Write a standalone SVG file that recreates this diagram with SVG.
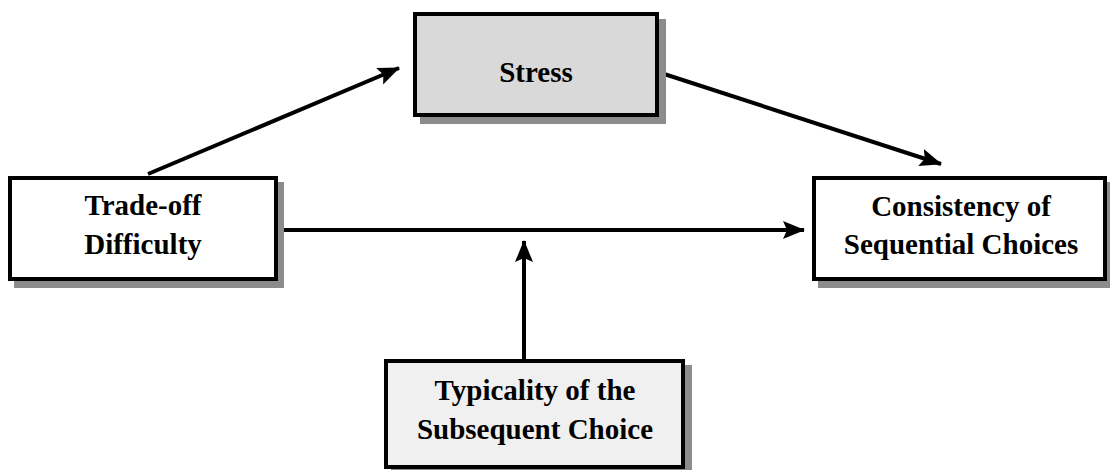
<svg xmlns="http://www.w3.org/2000/svg" width="1110" height="470" viewBox="0 0 1110 470">
<defs>
<marker id="ah" markerUnits="userSpaceOnUse" markerWidth="22" markerHeight="20" viewBox="0 0 22 20" refX="21" refY="10" orient="auto">
<path d="M0,1 L22,10 L0,19 L4,10 Z" fill="#000"/>
</marker>
<style>
.box{stroke:#000;stroke-width:4}
.shadow{fill:#8c8c8c}
.lbl{font-family:"Liberation Serif","Times New Roman",serif;font-weight:bold;font-size:29px;fill:#000;text-anchor:middle}
.conn{stroke:#000;stroke-width:4;fill:none;marker-end:url(#ah)}
</style>
</defs>
<rect width="1110" height="470" fill="#fff"/>
<g id="connectors">
<line class="conn" x1="148" y1="174" x2="399" y2="68"/>
<line class="conn" x1="658" y1="72" x2="941" y2="164"/>
<line class="conn" x1="278" y1="230" x2="804" y2="230"/>
<line class="conn" x1="524" y1="359" x2="524" y2="241"/>
</g>
<g id="stress">
<rect class="shadow" x="420" y="19" width="246" height="105"/>
<rect class="box" x="415" y="14" width="242" height="101" fill="#d9d9d9"/>
<text class="lbl" x="536" y="82">Stress</text>
</g>
<g id="tradeoff">
<rect class="shadow" x="14" y="182" width="270" height="106"/>
<rect class="box" x="10" y="178" width="266" height="101" fill="#fff"/>
<text class="lbl" x="143" y="215">Trade-off</text>
<text class="lbl" x="143" y="254">Difficulty</text>
</g>
<g id="consistency">
<rect class="shadow" x="818" y="182" width="296" height="106"/>
<rect class="box" x="814" y="178" width="291" height="101" fill="#fff"/>
<text class="lbl" x="961" y="216">Consistency of</text>
<text class="lbl" x="961" y="254">Sequential Choices</text>
</g>
<g id="typicality">
<rect class="shadow" x="391" y="365" width="301" height="110"/>
<rect class="box" x="386" y="361" width="297" height="106" fill="#f0f0f0"/>
<text class="lbl" x="535" y="400">Typicality of the</text>
<text class="lbl" x="535" y="439">Subsequent Choice</text>
</g>
</svg>
